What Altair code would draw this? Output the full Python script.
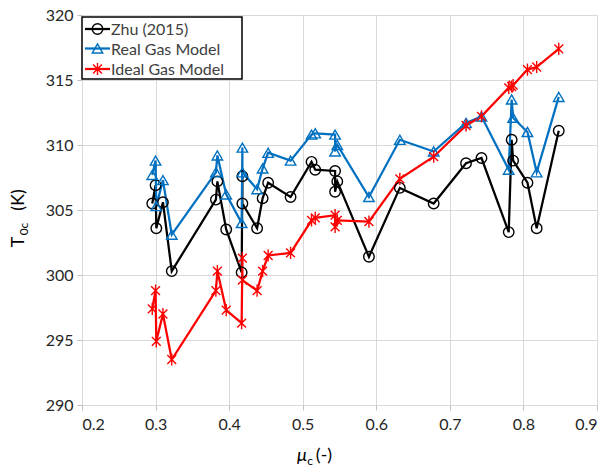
import altair as alt
import pandas as pd

# ---- data ----
mu = [0.2955, 0.300, 0.301, 0.310, 0.322, 0.382, 0.384, 0.396, 0.417, 0.418, 0.418,
      0.438, 0.4455, 0.453, 0.4835, 0.512, 0.517, 0.544, 0.544, 0.547, 0.590, 0.632,
      0.678, 0.722, 0.743, 0.780, 0.784, 0.786, 0.8055, 0.818, 0.848]
zhu = [305.5, 306.9, 303.6, 305.6, 300.3, 305.8, 307.2, 303.5, 300.2, 307.6, 305.5,
       303.6, 305.9, 307.1, 306.0, 308.7, 308.1, 308.0, 306.4, 307.2, 301.4, 306.7,
       305.5, 308.6, 309.0, 303.3, 310.4, 308.8, 307.1, 303.6, 311.1]
real_gas = [307.7, 308.8, 305.3, 307.3, 303.1, 307.9, 309.2, 306.2, 304.0, 309.8, 307.9,
            306.6, 308.2, 309.4, 308.8, 310.8, 310.9, 310.8, 309.5, 310.0, 306.0, 310.4,
            309.5, 311.7, 312.2, 308.1, 313.5, 312.1, 311.0, 307.9, 313.7]
ideal_gas = [297.4, 298.8, 294.9, 297.0, 293.5, 298.8, 300.3, 297.3, 296.3, 301.3, 299.6,
             298.8, 300.3, 301.5, 301.7, 304.2, 304.4, 304.6, 303.7, 304.2, 304.1, 307.4,
             309.1, 311.5, 312.2, 314.4, 314.5, 314.6, 315.8, 316.0, 317.4]
series_names = ["Zhu (2015)", "Real Gas Model", "Ideal Gas Model"]
x_ticks = [0.2, 0.3, 0.4, 0.5, 0.6, 0.7, 0.8, 0.9]
y_ticks = [290, 295, 300, 305, 310, 315, 320]

# ---- style ----
colors = ["#000000", "#0070C0", "#FF0000"]
FONT = "Lato"
STAR = "M0,-1L0,1M-0.72,-0.72L0.72,0.72M-0.72,0.72L0.72,-0.72"
shapes = ["circle", "triangle-up", STAR]
sizes = [110, 110, 150]
W, H = 515, 390

rows = []
for name, vals in zip(series_names, [zhu, real_gas, ideal_gas]):
    for i, (m, t) in enumerate(zip(mu, vals)):
        rows.append({"series": name, "idx": i, "mu": m, "T": t})
df = pd.DataFrame(rows)

xs = alt.Scale(domain=[0.2, 0.9], nice=False, zero=False)
ys = alt.Scale(domain=[290, 320], nice=False, zero=False)
xenc = alt.X("mu:Q", scale=xs, axis=alt.Axis(values=x_ticks, format=".1f", title=None))
yenc = alt.Y("T:Q", scale=ys, axis=alt.Axis(values=y_ticks, format="d", title=None))
cenc = alt.Color("series:N", scale=alt.Scale(domain=series_names, range=colors), legend=None)

base = alt.Chart(df)
lines = base.mark_line(strokeWidth=2.25).encode(
    x=xenc, y=yenc, color=cenc, detail="series:N", order="idx:Q")

layers = [lines]
for name, shp, sz, col in zip(series_names, shapes, sizes, colors):
    layers.append(
        base.transform_filter(alt.datum.series == name)
        .mark_point(shape=shp, size=sz, filled=False, strokeWidth=1.4, color=col, opacity=1)
        .encode(x=xenc, y=yenc)
    )

# ---- manual legend (top-left, inside plot) ----
one = alt.Chart(pd.DataFrame({"a": [0]}))
layers.append(one.mark_rect(fill="white", stroke="black", strokeWidth=1.5).encode(
    x=alt.value(0), x2=alt.value(160), y=alt.value(2), y2=alt.value(64)))
row_y = [14, 33.5, 54]
for name, shp, sz, col, ry in zip(series_names, shapes, sizes, colors, row_y):
    layers.append(one.mark_rule(color=col, strokeWidth=2.25).encode(
        x=alt.value(3), x2=alt.value(28), y=alt.value(ry)))
    layers.append(one.mark_point(shape=shp, size=sz, filled=False, strokeWidth=1.4,
                                 color=col, opacity=1).encode(
        x=alt.value(15.5), y=alt.value(ry)))
    layers.append(one.mark_text(text=name, align="left", baseline="middle", font=FONT,
                                fontSize=16, color="#404040").encode(
        x=alt.value(29), y=alt.value(ry + 1)))

# ---- axis titles with subscripts ----
layers.append(one.mark_text(text="T", angle=270, align="center", baseline="middle",
                            font=FONT, fontSize=18, color="black").encode(
    x=alt.value(-63), y=alt.value(227)))
layers.append(one.mark_text(text="0c", angle=270, align="center", baseline="middle",
                            font=FONT, fontSize=12, color="black").encode(
    x=alt.value(-58), y=alt.value(214)))
layers.append(one.mark_text(text="(K)", angle=270, align="center", baseline="middle",
                            font=FONT, fontSize=18, color="black").encode(
    x=alt.value(-63), y=alt.value(185)))

layers.append(one.mark_text(text="μ", align="center", baseline="middle", font=FONT,
                            fontSize=18, fontStyle="italic", color="black").encode(
    x=alt.value(220), y=alt.value(441)))
layers.append(one.mark_text(text="c", align="center", baseline="middle", font=FONT,
                            fontSize=12, color="black").encode(
    x=alt.value(228), y=alt.value(446)))
layers.append(one.mark_text(text="(-)", align="center", baseline="middle", font=FONT,
                            fontSize=18, color="black").encode(
    x=alt.value(242), y=alt.value(441)))

chart = alt.layer(*layers).properties(
    width=W, height=H,
    autosize=alt.AutoSizeParams(type="none"),
    padding={"left": 82, "top": 15, "right": 12, "bottom": 63},
).configure_view(stroke=None).configure_axis(
    domain=False, grid=True, gridColor="#D9D9D9", gridWidth=1,
    tickColor="#BFBFBF", tickSize=5, labelFont=FONT, labelFontSize=16,
    labelColor="#262626", labelPadding=4,
).configure_axisX(labelPadding=6)

chart.save("out.html", embed_options={"renderer": "svg", "actions": False})
